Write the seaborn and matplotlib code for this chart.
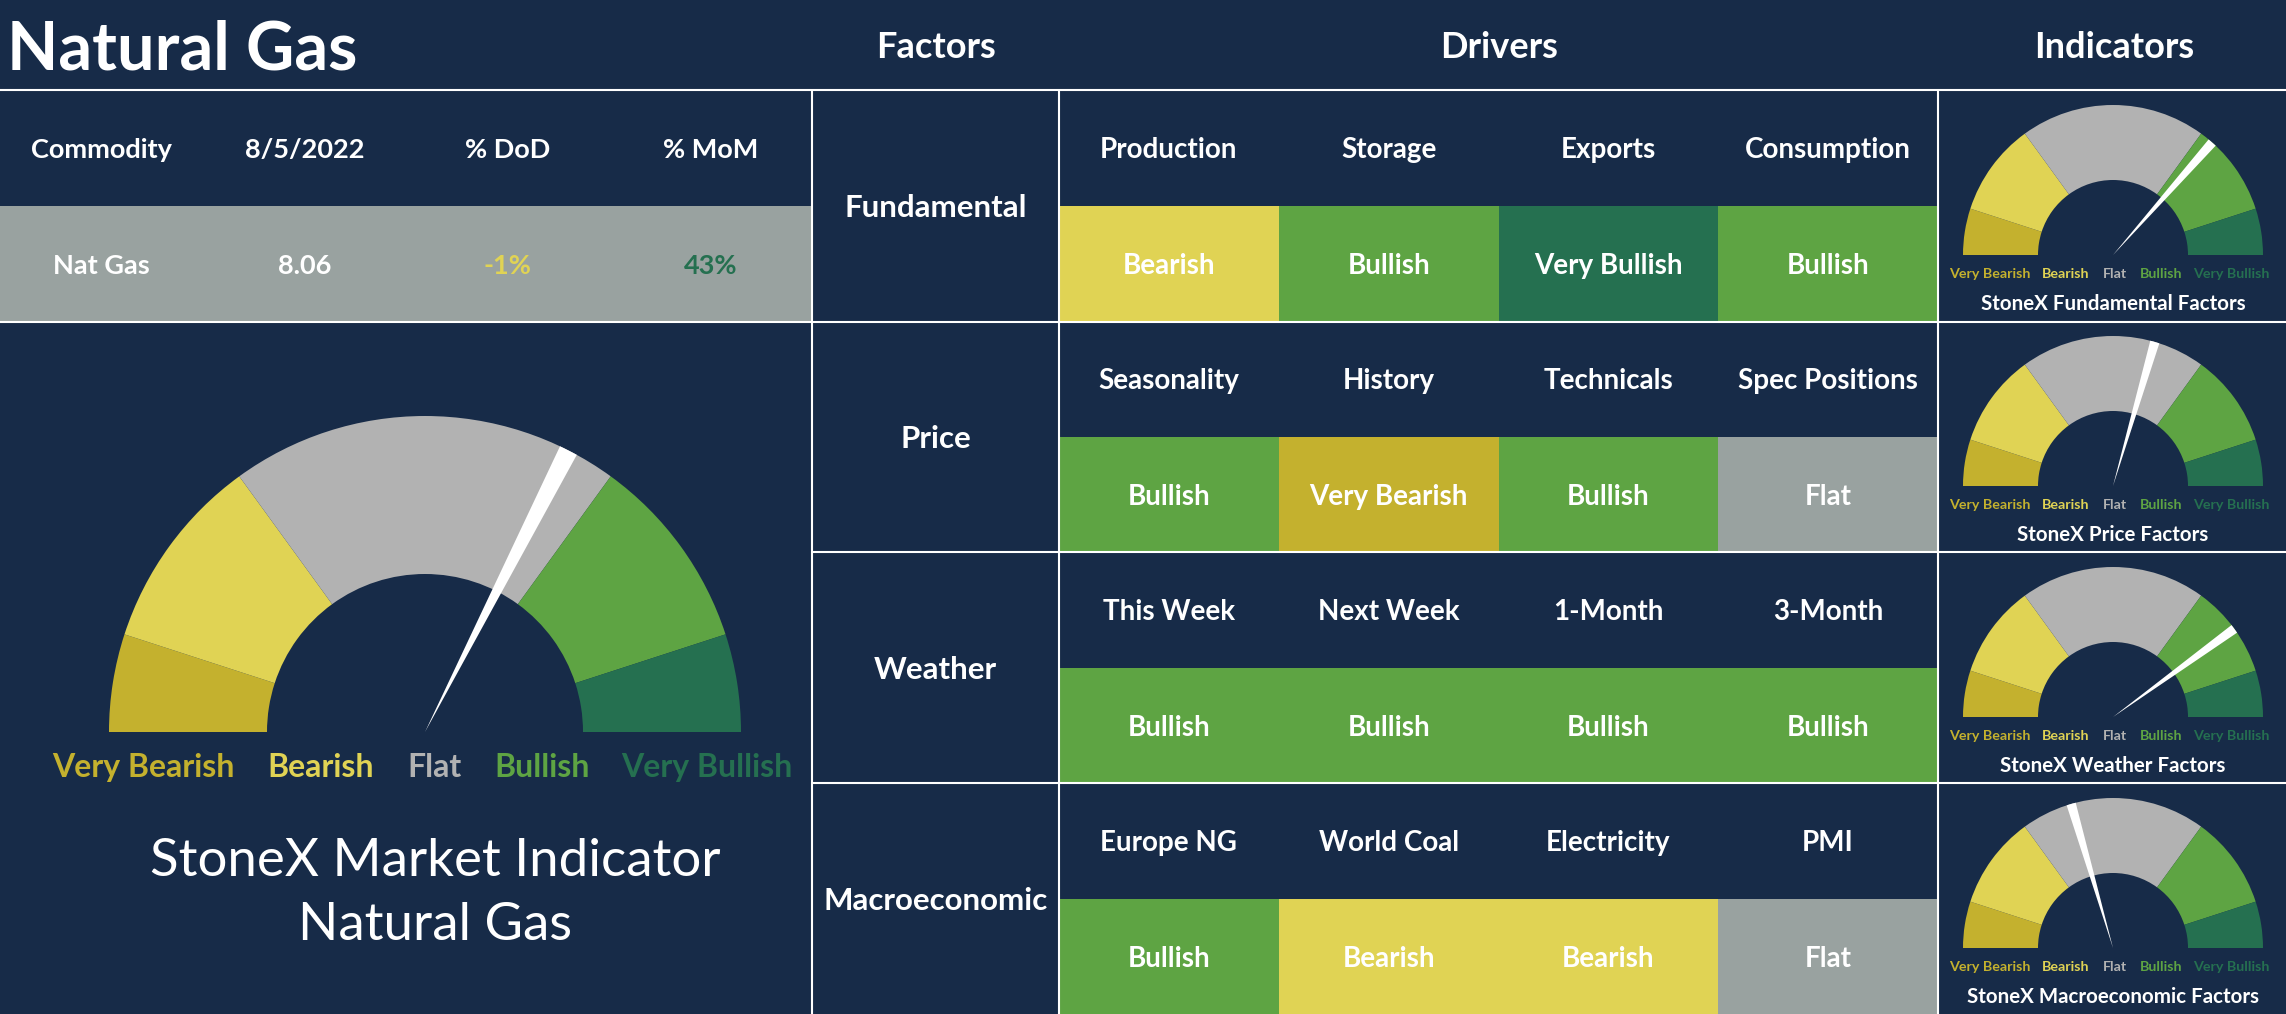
import numpy as np
import pandas as pd
import matplotlib
matplotlib.use("Agg")
import matplotlib.pyplot as plt
import seaborn as sns
from matplotlib.colors import ListedColormap

sns.set_theme(style="white")
plt.rcParams['font.family'] = ['Lato', 'DejaVu Sans']

# ---------------- data ----------------
page_title = "Natural Gas"
section_headers = ["Factors", "Drivers", "Indicators"]
commodity_cols = ["Commodity", "8/5/2022", "% DoD", "% MoM"]
commodity_vals = ["Nat Gas", "8.06", "-1%", "43%"]
factors = ["Fundamental", "Price", "Weather", "Macroeconomic"]
drivers = [
    ["Production", "Storage", "Exports", "Consumption"],
    ["Seasonality", "History", "Technicals", "Spec Positions"],
    ["This Week", "Next Week", "1-Month", "3-Month"],
    ["Europe NG", "World Coal", "Electricity", "PMI"],
]
signals = [
    ["Bearish", "Bullish", "Very Bullish", "Bullish"],
    ["Bullish", "Very Bearish", "Bullish", "Flat"],
    ["Bullish", "Bullish", "Bullish", "Bullish"],
    ["Bullish", "Bearish", "Bearish", "Flat"],
]
levels = ["Very Bearish", "Bearish", "Flat", "Bullish", "Very Bullish"]
band_share = [10, 20, 40, 20, 10]          # share of the half circle per band
overall_score = 65                         # 0 = very bearish, 100 = very bullish
factor_scores = [73, 59, 80, 41]
main_gauge_title = ["StoneX Market Indicator", "Natural Gas"]
indicator_titles = ["StoneX Fundamental Factors", "StoneX Price Factors",
                    "StoneX Weather Factors", "StoneX Macroeconomic Factors"]

# ---------------- style ----------------
NAVY = "#172b48"
WHITE = "#ffffff"
CELL_GRAY = "#99a2a0"
GAUGE_GRAY = "#b2b2b2"
level_colors = {"Very Bearish": "#c4b12e", "Bearish": "#e0d354", "Flat": CELL_GRAY,
                "Bullish": "#5ea443", "Very Bullish": "#257050"}
gauge_colors = ["#c4b12e", "#e0d354", GAUGE_GRAY, "#5ea443", "#257050"]
label_colors = ["#c4b12e", "#e0d354", "#b2b2b2", "#5ea443", "#257050"]
VA = "center_baseline"

W, H = 2286, 1014
fig = plt.figure(figsize=(W / 100, H / 100), dpi=100, facecolor=NAVY)


def frac(x0, y0, x1, y1):
    return [x0 / W, 1 - y1 / H, (x1 - x0) / W, (y1 - y0) / H]


# layout (pixels)
TOP = 90
LEFT_W = 812
FACT_X1 = 1059
DRV_X1 = 1938
ROW_H = (H - TOP) / 4

# ---------- commodity table (heatmap) ----------
ax_c = fig.add_axes(frac(0, TOP, LEFT_W, 322))
c_codes = np.array([[0] * 4, [1] * 4])
c_annot = np.array([commodity_cols, commodity_vals])
sns.heatmap(c_codes, ax=ax_c, cmap=ListedColormap([NAVY, CELL_GRAY]), vmin=-0.5, vmax=1.5,
            cbar=False, annot=c_annot, fmt="", xticklabels=False, yticklabels=False,
            annot_kws=dict(color=WHITE, fontsize=19.5, fontweight="bold", va=VA))
val_colors = [WHITE, WHITE, "#e0d354", "#257050"]
for k, t in enumerate(ax_c.texts):
    if k >= 4:
        t.set_color(val_colors[k - 4])

# ---------- factors column (heatmap) ----------
ax_f = fig.add_axes(frac(LEFT_W, TOP, FACT_X1, H))
sns.heatmap(np.zeros((4, 1)), ax=ax_f, cmap=ListedColormap([NAVY]), vmin=-0.5, vmax=0.5,
            cbar=False, annot=np.array(factors).reshape(4, 1), fmt="",
            xticklabels=False, yticklabels=False,
            annot_kws=dict(color=WHITE, fontsize=22.5, fontweight="bold", va=VA))

# ---------- drivers grid (heatmap) ----------
ax_d = fig.add_axes(frac(FACT_X1, TOP, DRV_X1, H))
codes, annots = [], []
for drv, sig in zip(drivers, signals):
    codes.append([0] * 4)
    annots.append(drv)
    codes.append([levels.index(s) + 1 for s in sig])
    annots.append(sig)
d_cmap = ListedColormap([NAVY] + [level_colors[l] for l in levels])
sns.heatmap(np.array(codes), ax=ax_d, cmap=d_cmap, vmin=-0.5, vmax=5.5, cbar=False,
            annot=np.array(annots), fmt="", xticklabels=False, yticklabels=False,
            annot_kws=dict(color=WHITE, fontsize=20, fontweight="bold", va=VA))


# ---------- gauges ----------
def draw_gauge(cx, cy, r, score, needle_w):
    ax = fig.add_axes(frac(cx - r, cy - r, cx + r, cy + r))
    total = sum(band_share)
    ax.pie(band_share + [total], colors=gauge_colors + ["none"], startangle=180,
           counterclock=False, radius=1, wedgeprops=dict(width=0.5, linewidth=0))
    ax.pie([score - needle_w / 2, needle_w, 2 * total - score - needle_w / 2],
           colors=["none", WHITE, "none"], startangle=180, counterclock=False,
           radius=1, wedgeprops=dict(linewidth=0))
    ax.set_xlim(-1, 1)
    ax.set_ylim(-1, 1)
    ax.axis("off")
    ax.patch.set_alpha(0)
    return ax


draw_gauge(425, 732, 316, overall_score, 1.9)
small_cy = [TOP + ROW_H * i + 165 for i in range(4)]
for cy, sc in zip(small_cy, factor_scores):
    draw_gauge(2113, cy, 150, sc, 2.0)

# ---------- overlay: lines and free text ----------
bg = fig.add_axes([0, 0, 1, 1])
bg.set_xlim(0, W)
bg.set_ylim(H, 0)
bg.axis("off")
bg.patch.set_alpha(0)

lw = 1.5
bg.hlines([TOP, 322], 0, W, color=WHITE, lw=lw)
bg.hlines([TOP + ROW_H * 2, TOP + ROW_H * 3], LEFT_W, W, color=WHITE, lw=lw)
bg.vlines([LEFT_W, FACT_X1, DRV_X1], TOP, H, color=WHITE, lw=lw)

bg.text(7, 45, page_title, color=WHITE, fontsize=48, fontweight="bold",
        ha="left", va=VA)
for x, s in zip([936, 1499, 2114], section_headers):
    bg.text(x, 44, s, color=WHITE, fontsize=26, fontweight="bold", ha="center", va=VA)

# main gauge labels
main_off = [-282, -104, 10, 117, 282]
for dx, lab, col in zip(main_off, levels, label_colors):
    bg.text(425 + dx, 765, lab, color=col, fontsize=23, fontweight="bold",
            ha="center", va=VA)
bg.text(435, 857, main_gauge_title[0], color=WHITE, fontsize=38, ha="center", va=VA)
bg.text(435, 921, main_gauge_title[1], color=WHITE, fontsize=38, ha="center", va=VA)

# small gauge labels
small_off = [-123, -47, 2, 48, 118]
for cy, ttl in zip(small_cy, indicator_titles):
    for dx, lab, col in zip(small_off, levels, label_colors):
        bg.text(2113 + dx, cy + 18, lab, color=col, fontsize=10.3, fontweight="bold",
                ha="center", va=VA)
    bg.text(2113, cy + 47, ttl, color=WHITE, fontsize=14.8, fontweight="bold",
            ha="center", va=VA)

fig.savefig("out.png", dpi=100, facecolor=NAVY)
